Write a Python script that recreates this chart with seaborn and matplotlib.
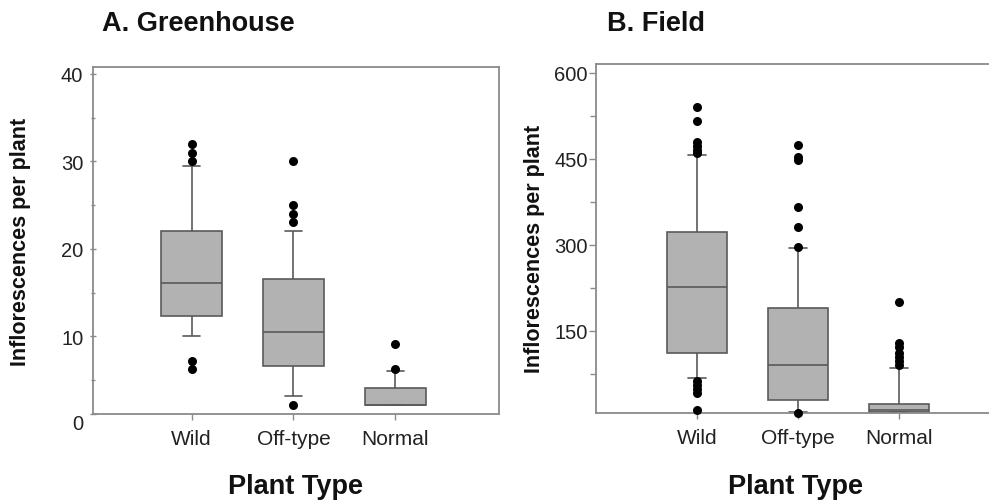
import numpy as np
import pandas as pd
import matplotlib
matplotlib.use("Agg")
import matplotlib.pyplot as plt
from matplotlib.ticker import FixedLocator
import seaborn as sns

sns.set_style("ticks")
plt.rcParams['font.family'] = ['Liberation Sans', 'DejaVu Sans']

categories = ["Wild", "Off-type", "Normal"]

# A. Greenhouse (summary)
gh_whislo = [10, 3.2, 2.1]
gh_q1 = [12.3, 6.6, 2.1]
gh_med = [16.1, 10.5, 2.1]
gh_q3 = [22, 16.6, 4.1]
gh_whishi = [29.5, 22, 6]
gh_outliers = [[32, 31, 30, 7.2, 6.2], [30, 25, 24, 23.1, 2.1], [9.1, 6.2]]

# B. Field
fd_whislo = [68, 9, 8]
fd_q1 = [111, 30, 8]
fd_med = [227, 90, 12]
fd_q3 = [323, 189, 23]
fd_whishi = [456, 294, 85]
fd_outliers = [[540, 516, 479, 472, 466, 460, 62, 55, 48, 42, 11],
               [475, 453, 448, 366, 331, 296, 7],
               [200, 128, 121, 112, 104, 97, 90]]


def core_frame(lo, q1, med, q3, hi):
    rows = []
    for c, a, b, m, d, e in zip(categories, lo, q1, med, q3, hi):
        for v in (a, b, b, m, d, d, e):
            rows.append((c, v))
    return pd.DataFrame(rows, columns=["type", "value"])


def out_frame(outs):
    rows = [(c, v) for c, vals in zip(categories, outs) for v in vals]
    return pd.DataFrame(rows, columns=["type", "value"])


FIG_W, FIG_H = 989, 502
fig = plt.figure(figsize=(FIG_W / 100, FIG_H / 100), dpi=100)


def px_axes(x0, x1, ytop, ybot):
    return fig.add_axes([x0 / FIG_W, (FIG_H - ybot) / FIG_H,
                         (x1 - x0) / FIG_W, (ybot - ytop) / FIG_H])


ax1 = px_axes(93, 499, 68, 415)
ax2 = px_axes(596, 1000, 65, 414)

edge = "#5a5a5a"
face = "#b2b2b2"
spine_c = "#8a8a8a"

def draw(ax, core, outs):
    sns.boxplot(data=core, x="type", y="value", order=categories, ax=ax,
                whis=(0, 100), showfliers=False, width=0.6,
                color=face, linecolor=edge, linewidth=1.2,
                capwidths=0.17)
    for p in ax.patches:
        p.set_facecolor(face)
    sns.stripplot(data=outs, x="type", y="value", order=categories, ax=ax,
                  jitter=False, color="black", size=6.5, linewidth=0,
                  clip_on=False, zorder=5)
    for s in ax.spines.values():
        s.set_visible(True)
        s.set_color(spine_c)
        s.set_linewidth(1.3)
    ax.tick_params(axis="x", direction="out", length=4, width=1,
                   color=spine_c, labelsize=15, pad=6.5, labelcolor="#222222")
    ax.set_xlabel("Plant Type", fontsize=19.5, fontweight="bold", color="#111111")
    ax.set_ylabel("Inflorescences per plant", fontsize=15.5, fontweight="bold",
                  color="#111111")
    ax.xaxis.label.set_va("center")
    ax.yaxis.label.set_va("center")


draw(ax1, core_frame(gh_whislo, gh_q1, gh_med, gh_q3, gh_whishi), out_frame(gh_outliers))
draw(ax2, core_frame(fd_whislo, fd_q1, fd_med, fd_q3, fd_whishi), out_frame(fd_outliers))

# Left axis
ax1.set_xlim(-0.97, 3.02)
ax1.set_ylim(1.1, 40.8)
ax1.yaxis.set_major_locator(FixedLocator([1.1, 10, 20, 30, 40]))
ax1.set_yticklabels(["0", "10", "20", "30", "40"])
ax1.yaxis.set_minor_locator(FixedLocator([5, 15, 25, 35]))
ax1.tick_params(axis="y", which="both", direction="inout", length=4, width=1,
                color=spine_c, labelsize=14.5, pad=5, labelcolor="#222222")
ax1.tick_params(axis="y", which="minor", length=3)
ax1.get_yticklabels()[0].set_va("top")
ax1.yaxis.set_label_coords(-0.1786, 0.5)
ax1.xaxis.set_label_coords(0.5, -0.2075)

# Right axis
ax2.set_xlim(-1.0, 3.0)
ax2.set_ylim(6.6, 615.6)
ax2.yaxis.set_major_locator(FixedLocator([150, 300, 450, 600]))
ax2.yaxis.set_minor_locator(FixedLocator([75, 225, 375, 525]))
ax2.tick_params(axis="y", which="both", direction="out", length=5, width=1,
                color=spine_c, labelsize=14.5, pad=1, labelcolor="#222222")
ax2.tick_params(axis="y", which="minor", length=4)
ax2.yaxis.set_label_coords(-0.151, 0.473)
ax2.xaxis.set_label_coords(0.4926, -0.209)

fig.text(102 / FIG_W, 1 - 24 / FIG_H, "A. Greenhouse", fontsize=19.5,
         fontweight="bold", va="center", ha="left", color="#111111")
fig.text(607 / FIG_W, 1 - 24 / FIG_H, "B. Field", fontsize=19.5,
         fontweight="bold", va="center", ha="left", color="#111111")

fig.savefig("out.png", dpi=100)
